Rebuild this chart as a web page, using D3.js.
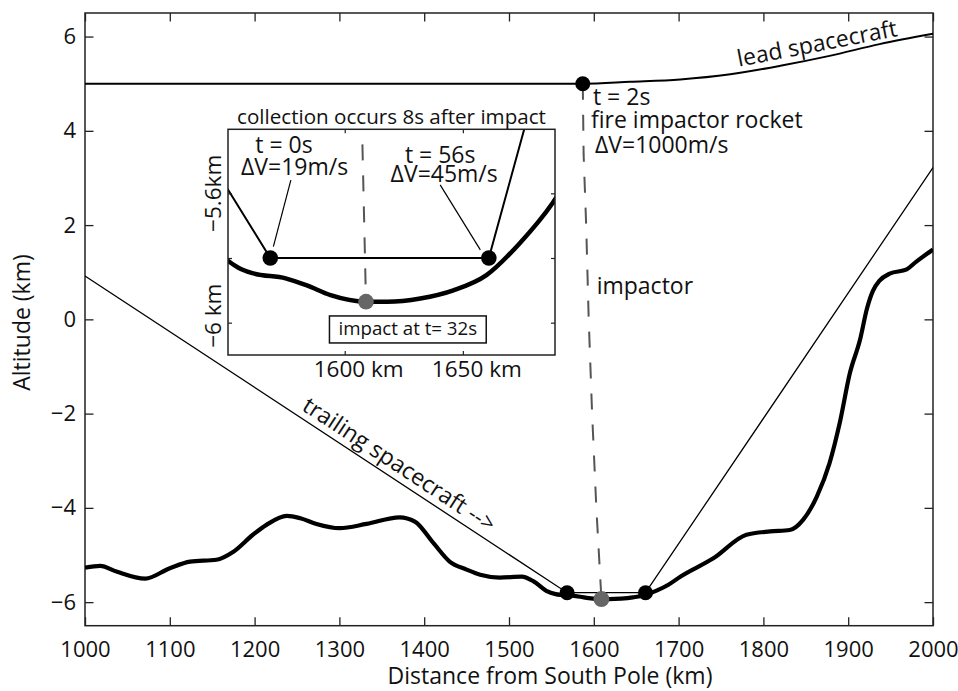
<!DOCTYPE html>
<html>
<head>
<meta charset="utf-8">
<script src="https://cdn.jsdelivr.net/npm/d3@7"></script>
<style>
  body { margin: 0; background: #fff; }
  svg text { font-family: "Open Sans", sans-serif; fill: #111; }
</style>
</head>
<body>
<div id="chart"></div>
<script>
// DATA ***********************************************
var xTicks = [1000, 1100, 1200, 1300, 1400, 1500, 1600, 1700, 1800, 1900, 2000];
var yTicks = [-6, -4, -2, 0, 2, 4, 6];
var insetXTicks = [1600, 1650];
var insetXLabels = ["1600 km", "1650 km"];
var insetYTicks = [-6, -5.8, -5.6];
var insetYLabels = ["\u22126 km", "", "\u22125.6km"];

// terrain profile (km from pole, km altitude)
var terrainDist = [1000, 1018, 1037, 1071, 1100, 1124, 1155, 1175, 1198, 1214, 1238, 1254, 1273, 1300, 1332,
  1371, 1389, 1411, 1430, 1450, 1466, 1489, 1515, 1529, 1544, 1555, 1561, 1575, 1584, 1594, 1609, 1618,
  1632, 1646, 1660, 1674, 1688, 1702, 1741, 1780, 1808, 1831, 1847, 1863, 1878, 1890, 1902, 1914, 1922,
  1929, 1937, 1949, 1969, 1980, 2000];
var terrainAlt = [-5.27, -5.23, -5.35, -5.5, -5.28, -5.14, -5.10, -4.93, -4.57, -4.36, -4.17, -4.22, -4.34, -4.43, -4.34,
  -4.2, -4.29, -4.75, -5.14, -5.31, -5.42, -5.48, -5.46, -5.56, -5.76, -5.83, -5.847, -5.863, -5.885, -5.915, -5.935, -5.935,
  -5.925, -5.9, -5.853, -5.755, -5.63, -5.46, -5.07, -4.57, -4.5, -4.47, -4.25, -3.76, -3.05, -2.2, -1.14, -0.43, 0.22,
  0.6, 0.82, 0.97, 1.06, 1.22, 1.48];

var leadDist = [1000, 1587, 1643, 1702, 1761, 1820, 1878, 1937, 2000];
var leadAlt = [5, 5, 5.04, 5.09, 5.2, 5.38, 5.59, 5.84, 6.06];

var trailDist = [1000, 1568.5, 1661, 2000];
var trailAlt = [0.92, -5.8, -5.8, 3.22];

var impDist = [1587, 1588, 1591, 1594, 1598, 1603, 1609];
var impAlt = [5, 3.5, 2, 0, -2, -4, -5.935];

var blackDots = [[1587, 5], [1568.5, -5.8], [1661, -5.8]];
var impactDot = [1609, -5.935];

// LAYOUT ***********************************************
var width = 958, height = 691;
var margin = {top: 13, right: 25, bottom: 65.3, left: 85};
var inset = {x0: 228, x1: 555, y0: 129.3, y1: 355};

var svg = d3.select("#chart").append("svg")
  .attr("width", width)
  .attr("height", height);

var x = d3.scaleLinear().domain([1000, 2000]).range([margin.left, width - margin.right]);
var y = d3.scaleLinear().domain([-6.5, 6.5]).range([height - margin.bottom, margin.top]);

var ix = d3.scaleLinear().domain([1550.6, 1689]).range([inset.x0, inset.x1]);
var iy = d3.scaleLinear().domain([-6.1, -5.402]).range([inset.y1, inset.y0]);

function pts(xs, ys) { return xs.map(function (d, i) { return [d, ys[i]]; }); }

svg.append("clipPath").attr("id", "mainClip").append("rect")
  .attr("x", x.range()[0]).attr("y", y.range()[1])
  .attr("width", x.range()[1] - x.range()[0]).attr("height", y.range()[0] - y.range()[1]);
svg.append("clipPath").attr("id", "insetClip").append("rect")
  .attr("x", inset.x0).attr("y", inset.y0)
  .attr("width", inset.x1 - inset.x0).attr("height", inset.y1 - inset.y0);

// AXES ***********************************************
function styleAxis(g, size) {
  g.select(".domain").remove();
  g.selectAll(".tick line").attr("stroke", "#222").attr("stroke-width", 1.3);
  g.selectAll("text").attr("font-family", "Open Sans").attr("font-size", size).attr("fill", "#111");
}

svg.append("g")
  .attr("transform", "translate(0," + y.range()[0] + ")")
  .call(d3.axisBottom(x).tickValues(xTicks).tickFormat(d3.format("d")).tickSizeInner(-8.5).tickSizeOuter(0).tickPadding(15.5))
  .call(styleAxis, 22);
svg.append("g")
  .attr("transform", "translate(0," + y.range()[1] + ")")
  .call(d3.axisTop(x).tickValues(xTicks).tickFormat("").tickSizeInner(-8.5).tickSizeOuter(0))
  .call(styleAxis, 22);
svg.append("g")
  .attr("transform", "translate(" + x.range()[0] + ",0)")
  .call(d3.axisLeft(y).tickValues(yTicks).tickFormat(d3.format("d")).tickSizeInner(-8.5).tickSizeOuter(0).tickPadding(9))
  .call(styleAxis, 22);
svg.append("g")
  .attr("transform", "translate(" + x.range()[1] + ",0)")
  .call(d3.axisRight(y).tickValues(yTicks).tickFormat("").tickSizeInner(-8.5).tickSizeOuter(0))
  .call(styleAxis, 22);

svg.append("rect")
  .attr("x", x.range()[0]).attr("y", y.range()[1])
  .attr("width", x.range()[1] - x.range()[0]).attr("height", y.range()[0] - y.range()[1])
  .attr("fill", "none").attr("stroke", "#222").attr("stroke-width", 1.5);

svg.append("text")
  .attr("x", 550).attr("y", 684)
  .attr("text-anchor", "middle").attr("font-size", 23)
  .text("Distance from South Pole (km)");
svg.append("text")
  .attr("transform", "translate(30," + 322.5 + ") rotate(-90)")
  .attr("text-anchor", "middle").attr("font-size", 23)
  .text("Altitude (km)");

// MAIN MARKS ***********************************************
var line = d3.line().x(function (d) { return x(d[0]); }).y(function (d) { return y(d[1]); });
var smooth = d3.line().curve(d3.curveMonotoneX)
  .x(function (d) { return x(d[0]); }).y(function (d) { return y(d[1]); });

var main = svg.append("g").attr("clip-path", "url(#mainClip)");

main.append("path").datum(pts(terrainDist, terrainAlt))
  .attr("d", smooth).attr("fill", "none").attr("stroke", "#000").attr("stroke-width", 4.2)
  .attr("stroke-linejoin", "round");
main.append("path").datum(pts(trailDist, trailAlt))
  .attr("d", line).attr("fill", "none").attr("stroke", "#000").attr("stroke-width", 1.3);
main.append("path").datum(pts(leadDist, leadAlt))
  .attr("d", smooth).attr("fill", "none").attr("stroke", "#000").attr("stroke-width", 2);
main.append("path").datum(pts(impDist, impAlt))
  .attr("d", line).attr("fill", "none").attr("stroke", "#555").attr("stroke-width", 2)
  .attr("stroke-dasharray", "16,15");

main.selectAll(".bdot").data(blackDots).enter().append("circle")
  .attr("cx", function (d) { return x(d[0]); }).attr("cy", function (d) { return y(d[1]); })
  .attr("r", 7.5).attr("fill", "#000");
main.append("circle")
  .attr("cx", x(impactDot[0])).attr("cy", y(impactDot[1]))
  .attr("r", 8).attr("fill", "#666");

// main annotations
var notes = [
  {t: "t = 2s", d: 1599, a: 4.54, s: 23},
  {t: "fire impactor rocket", d: 1596.7, a: 4.05, s: 23},
  {t: "\u0394V=1000m/s", d: 1601.4, a: 3.52, s: 23},
  {t: "impactor", d: 1603.4, a: 0.53, s: 23}
];
svg.selectAll(".note").data(notes).enter().append("text")
  .attr("x", function (d) { return x(d.d); }).attr("y", function (d) { return y(d.a); })
  .attr("font-size", function (d) { return d.s; })
  .text(function (d) { return d.t; });

// labels along the spacecraft paths
var lx = x(1771), ly = y(5.23);
svg.append("text")
  .attr("transform", "translate(" + lx + "," + (ly - 6) + ") rotate(-11)")
  .attr("font-size", 23)
  .text("lead spacecraft");

var ang = Math.atan2(y(trailAlt[1]) - y(trailAlt[0]), x(trailDist[1]) - x(trailDist[0])) * 180 / Math.PI;
var tx = x(1250), ty = y(trailAlt[0] + (trailAlt[1] - trailAlt[0]) * (1250 - 1000) / (trailDist[1] - trailDist[0]));
svg.append("text")
  .attr("transform", "translate(" + tx + "," + ty + ") rotate(" + ang + ")")
  .attr("dy", -7)
  .attr("font-size", 23)
  .text("trailing spacecraft -->");

// INSET ***********************************************
var ins = svg.append("g");
ins.append("rect")
  .attr("x", inset.x0).attr("y", inset.y0)
  .attr("width", inset.x1 - inset.x0).attr("height", inset.y1 - inset.y0)
  .attr("fill", "#fff");

var iline = d3.line().x(function (d) { return ix(d[0]); }).y(function (d) { return iy(d[1]); });
var ismooth = d3.line().curve(d3.curveMonotoneX)
  .x(function (d) { return ix(d[0]); }).y(function (d) { return iy(d[1]); });

var insPlot = ins.append("g").attr("clip-path", "url(#insetClip)");
insPlot.append("path").datum(pts(terrainDist, terrainAlt))
  .attr("d", ismooth).attr("fill", "none").attr("stroke", "#000").attr("stroke-width", 4.5);
insPlot.append("path").datum(pts(trailDist, trailAlt))
  .attr("d", iline).attr("fill", "none").attr("stroke", "#000").attr("stroke-width", 2);
insPlot.append("path").datum(pts(impDist, impAlt))
  .attr("d", iline).attr("fill", "none").attr("stroke", "#555").attr("stroke-width", 2)
  .attr("stroke-dasharray", "16,15");

// pointer lines
var pointers = [
  [[1577.2, -5.559], [1569.8, -5.765]],
  [[1640.4, -5.574], [1657.4, -5.775]]
];
insPlot.selectAll(".ptr").data(pointers).enter().append("path")
  .attr("d", iline).attr("fill", "none").attr("stroke", "#000").attr("stroke-width", 1.2);

insPlot.selectAll(".idot").data(blackDots.slice(1)).enter().append("circle")
  .attr("cx", function (d) { return ix(d[0]); }).attr("cy", function (d) { return iy(d[1]); })
  .attr("r", 7.8).attr("fill", "#000");
insPlot.append("circle")
  .attr("cx", ix(impactDot[0])).attr("cy", iy(impactDot[1]))
  .attr("r", 7.8).attr("fill", "#666");

// inset axes
function styleInset(g) {
  g.select(".domain").remove();
  g.selectAll(".tick line").attr("stroke", "#222").attr("stroke-width", 1.2);
}
ins.append("g").attr("transform", "translate(0," + inset.y1 + ")")
  .call(d3.axisBottom(ix).tickValues(insetXTicks).tickFormat("").tickSizeInner(-4).tickSizeOuter(0)).call(styleInset);
ins.append("g").attr("transform", "translate(0," + inset.y0 + ")")
  .call(d3.axisTop(ix).tickValues(insetXTicks).tickFormat("").tickSizeInner(-4).tickSizeOuter(0)).call(styleInset);
ins.append("g").attr("transform", "translate(" + inset.x0 + ",0)")
  .call(d3.axisLeft(iy).tickValues(insetYTicks).tickFormat("").tickSizeInner(-4).tickSizeOuter(0)).call(styleInset);
ins.append("g").attr("transform", "translate(" + inset.x1 + ",0)")
  .call(d3.axisRight(iy).tickValues(insetYTicks).tickFormat("").tickSizeInner(-4).tickSizeOuter(0)).call(styleInset);

ins.append("rect")
  .attr("x", inset.x0).attr("y", inset.y0)
  .attr("width", inset.x1 - inset.x0).attr("height", inset.y1 - inset.y0)
  .attr("fill", "none").attr("stroke", "#222").attr("stroke-width", 1.5);

ins.selectAll(".ixl").data(insetXTicks).enter().append("text")
  .attr("x", function (d) { return ix(d) - 31; }).attr("y", inset.y1 + 21.7)
  .attr("font-size", 22.5)
  .text(function (d, i) { return insetXLabels[i]; });
ins.selectAll(".iyl").data(insetYTicks).enter().append("text")
  .attr("transform", function (d) { return "translate(" + (inset.x0 - 7.5) + "," + (iy(d) - (d === -6 ? 7 : 0)) + ") rotate(-90)"; })
  .attr("text-anchor", "middle").attr("font-size", 22.5)
  .text(function (d, i) { return insetYLabels[i]; });

ins.append("text")
  .attr("x", (inset.x0 + inset.x1) / 2).attr("y", inset.y0 - 5.5)
  .attr("text-anchor", "middle").attr("font-size", 20.6)
  .text("collection occurs 8s after impact");

var insetNotes = [
  {t: "t = 0s", d: 1574.3, a: -5.4745},
  {t: "\u0394V=19m/s", d: 1578.8, a: -5.543},
  {t: "t = 56s", d: 1640.4, a: -5.506},
  {t: "\u0394V=45m/s", d: 1642.1, a: -5.564}
];
ins.selectAll(".inote").data(insetNotes).enter().append("text")
  .attr("x", function (d) { return ix(d.d); }).attr("y", function (d) { return iy(d.a); })
  .attr("text-anchor", "middle").attr("font-size", 23)
  .text(function (d) { return d.t; });

var impText = ins.append("text")
  .attr("x", ix(1626.7)).attr("y", iy(-6.038))
  .attr("text-anchor", "middle").attr("font-size", 18.7)
  .text("impact at t= 32s");
var bb = impText.node().getBBox();
ins.insert("rect", function () { return impText.node(); })
  .attr("x", bb.x - 9).attr("y", bb.y + 1)
  .attr("width", bb.width + 18).attr("height", bb.height + 2)
  .attr("fill", "#fff").attr("stroke", "#111").attr("stroke-width", 1.5);
</script>
</body>
</html>
